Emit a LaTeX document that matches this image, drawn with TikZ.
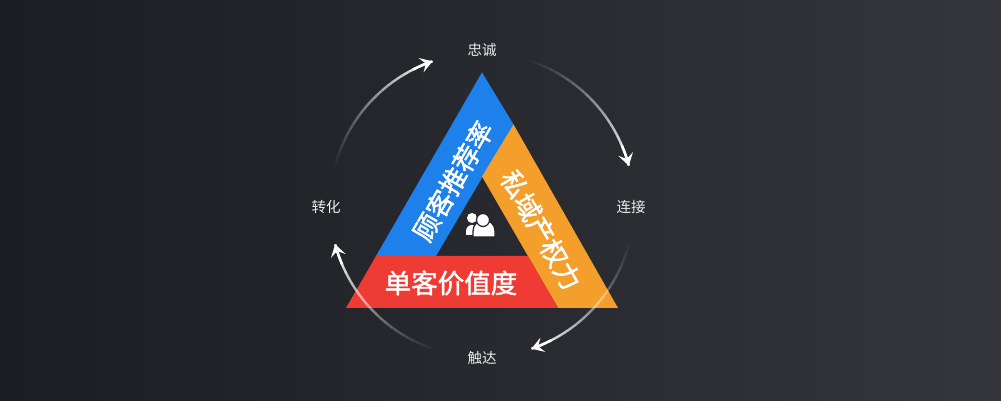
\documentclass[tikz,border=0pt]{standalone}
\usepackage{fontspec}
\usepackage{tikz}
\usetikzlibrary{arrows.meta,positioning}
\newfontfamily\cjk{Noto Sans CJK SC}
\newfontfamily\cjkband[FakeBold=1.5]{Noto Sans CJK SC}
\definecolor{bgdark}{RGB}{28,29,34}
\definecolor{bglight}{RGB}{52,54,60}
\definecolor{bandblue}{RGB}{30,128,234}
\definecolor{bandorange}{RGB}{244,158,44}
\definecolor{bandred}{RGB}{238,60,52}

\begin{document}
\begin{tikzpicture}[x=1pt,y=1pt,
    bandtext/.style={text=white,font=\cjkband\fontsize{26.5}{26.5}\selectfont,inner sep=0pt},
    stage/.style={text=white!92!black,font=\cjk\fontsize{14.5}{15}\selectfont,inner sep=0pt},
    loopline/.style={white,line width=2.4pt},
    looptip/.style={-{Stealth[length=12pt,width=15pt,inset=5pt]}},
  ]
  \shade[left color=bgdark,right color=bglight] (0,0) rectangle (1001,401);
  \useasboundingbox (0,0) rectangle (1001,401);

  \coordinate (hub) at (482,196);
  \coordinate (apex) at (482,328.6);
  \coordinate (bl) at (346,93);
  \coordinate (br) at (618,93);
  \coordinate (redl) at (376,145);
  \coordinate (redr) at (528,145);
  \coordinate (bluein) at (436,145);
  \coordinate (orangein) at (558,93);
  \coordinate (inapex) at (482,224.5);
  \coordinate (joint) at (513.5,276.6);

  \fill[bandblue] (redl) -- (apex) -- (joint) -- (bluein) -- cycle;
  \fill[bandorange] (joint) -- (br) -- (orangein) -- (inapex) -- cycle;
  \fill[bandred] (bl) -- (orangein) -- (redr) -- (redl) -- cycle;

  \node[bandtext,rotate=60] (referral) at (453,220) {顾客推荐率};
  \node[bandtext,rotate=-60] (ownership) at (541,171) {私域产权力};
  \node[bandtext] (value) at (451,118) {单客价值度};

  \fill[white] (472,183) circle (5);
  \fill[white] (466,166) -- (466,170) arc[start angle=180,end angle=0,radius=6] -- (478,166) -- cycle;
  \filldraw[white,draw=bgdark!80!bglight,line width=1.2pt] (473,164) -- (473,170) arc[start angle=180,end angle=0,radius=11] -- (495,164) -- cycle;
  \filldraw[white,draw=bgdark!80!bglight,line width=1.2pt] (483,181) circle (6.5);

  \node[stage] (loyal) at (482,351) {忠诚};
  \node[stage] (connect) at (631,194) {连接};
  \node[stage] (reach) at (482,43) {触达};
  \node[stage] (convert) at (326,194) {转化};

  \foreach \s/\e in {73/15,-13/-71,-107/-165,167/109} {
    \foreach \k in {0,...,23} {
      \pgfmathsetmacro\a{\s+(\e-\s)*\k/24}
      \pgfmathsetmacro\b{\s+(\e-\s)*(\k+1)/24}
      \pgfmathsetmacro\op{((\k+1)/24)^1.3}
      \draw[loopline,opacity=\op] ([shift={(\a:152)}]hub) arc[start angle=\a,end angle=\b,radius=152];
    }
    \draw[loopline,looptip] ([shift={(\e+8:152)}]hub) arc[start angle=\e+8,end angle=\e,radius=152];
  }
\end{tikzpicture}
\end{document}
